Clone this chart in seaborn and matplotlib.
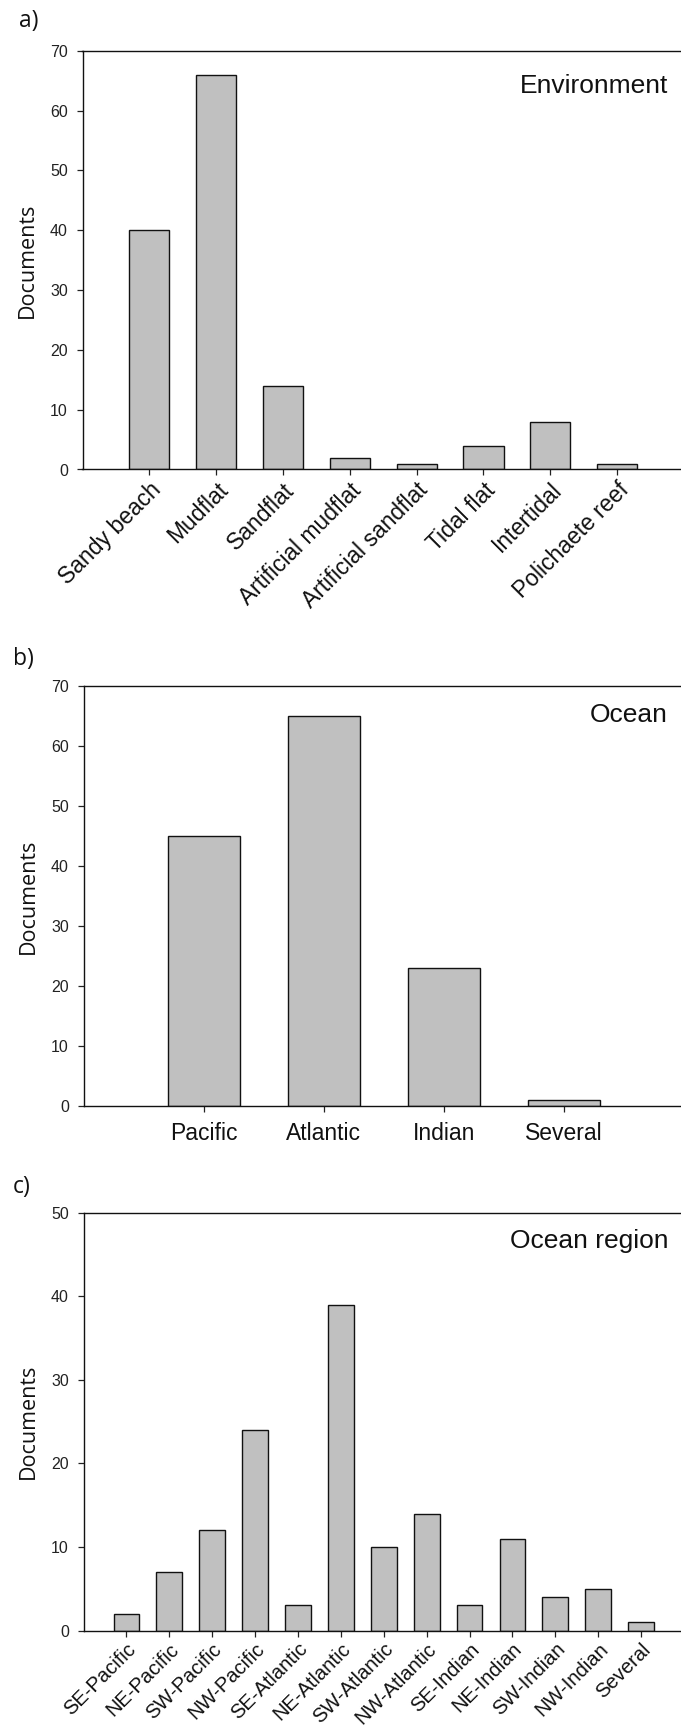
import matplotlib
matplotlib.use("Agg")
import matplotlib.pyplot as plt
import seaborn as sns
import pandas as pd

# ---- data -------------------------------------------------------------
env_categories = ["Sandy beach", "Mudflat", "Sandflat", "Artificial mudflat",
                  "Artificial sandflat", "Tidal flat", "Intertidal", "Polichaete reef"]
env_documents = [40, 66, 14, 2, 1, 4, 8, 1]

ocean_categories = ["Pacific", "Atlantic", "Indian", "Several"]
ocean_documents = [45, 65, 23, 1]

region_categories = ["SE-Pacific", "NE-Pacific", "SW-Pacific", "NW-Pacific",
                     "SE-Atlantic", "NE-Atlantic", "SW-Atlantic", "NW-Atlantic",
                     "SE-Indian", "NE-Indian", "SW-Indian", "NW-Indian", "Several"]
region_documents = [2, 7, 12, 24, 3, 39, 10, 14, 3, 11, 4, 5, 1]

env_yticks = [0, 10, 20, 30, 40, 50, 60, 70]
ocean_yticks = [0, 10, 20, 30, 40, 50, 60, 70]
region_yticks = [0, 10, 20, 30, 40, 50]

# ---- style ------------------------------------------------------------
sns.set_theme(style="ticks")
plt.rcParams["font.family"] = ["Liberation Sans", "DejaVu Sans"]
plt.rcParams["axes.linewidth"] = 1.0
plt.rcParams["xtick.major.width"] = 0.9
plt.rcParams["ytick.major.width"] = 0.9
plt.rcParams["xtick.major.size"] = 4.5
plt.rcParams["ytick.major.size"] = 4.5
plt.rcParams["xtick.color"] = "#222222"
plt.rcParams["ytick.color"] = "#222222"

W, H = 681, 1726
fig = plt.figure(figsize=(W / 100, H / 100), dpi=100)
fig.patch.set_facecolor("white")

BAR_FILL = "#c0c0c0"


def add_panel(left, top, right, bottom):
    return fig.add_axes([left / W, 1 - bottom / H, (right - left) / W, (bottom - top) / H])


def draw_panel(ax, cats, vals, yticks, title, xlabel_size, rotate, title_baseline_px):
    df = pd.DataFrame({"cat": cats, "val": vals})
    sns.barplot(data=df, x="cat", y="val", ax=ax, color=BAR_FILL, saturation=1,
                edgecolor="#111111", linewidth=1.0, width=0.6)
    ax.set_xlim(-1, len(cats))
    ax.set_ylim(yticks[0], yticks[-1])
    ax.set_yticks(yticks)
    ax.set_yticklabels([str(t) for t in yticks], fontsize=11.5, color="#222222")
    ax.tick_params(axis="y", pad=6, direction="out")
    ax.set_xlabel("")
    ax.set_xticks(range(len(cats)))
    if rotate:
        ax.set_xticklabels(cats, fontsize=xlabel_size, rotation=45, ha="right",
                           va="top", rotation_mode="anchor", color="#111111")
        ax.tick_params(axis="x", pad=2)
    else:
        ax.set_xticklabels(cats, fontsize=xlabel_size, color="#111111")
        ax.tick_params(axis="x", pad=7)
    ax.set_ylabel("Documents", family=["Open Sans", "DejaVu Sans"], fontsize=15.5,
                  color="#111111")
    ax.yaxis.set_label_coords(-0.074, 0.5)
    for s in ax.spines.values():
        s.set_color("#111111")
    ax.annotate(title, xy=(1, 1), xycoords="axes fraction",
                xytext=(-16 * 0.72, -title_baseline_px * 0.72), textcoords="offset points",
                ha="right", va="baseline", fontsize=19, color="#111111")


# a) environment
ax_a = add_panel(82.5, 50.7, 684, 469.5)
draw_panel(ax_a, env_categories, env_documents, env_yticks, "Environment", 16.5, True, 42)

# b) ocean
ax_b = add_panel(83.5, 686.4, 684, 1105.6)
draw_panel(ax_b, ocean_categories, ocean_documents, ocean_yticks, "Ocean", 16.5, False, 36)

# c) ocean region
ax_c = add_panel(83.5, 1212.8, 684, 1630.5)
draw_panel(ax_c, region_categories, region_documents, region_yticks, "Ocean region", 14.5, True, 35)

# panel letters
for letter, x, y in [("a)", 19, 27.3), ("b)", 13, 665), ("c)", 13, 1193.4)]:
    fig.text(x / W, 1 - y / H, letter, family=["Open Sans", "DejaVu Sans"], fontsize=16.5,
             ha="left", va="baseline", color="#111111")

fig.savefig("out.png", dpi=100, facecolor="white")
